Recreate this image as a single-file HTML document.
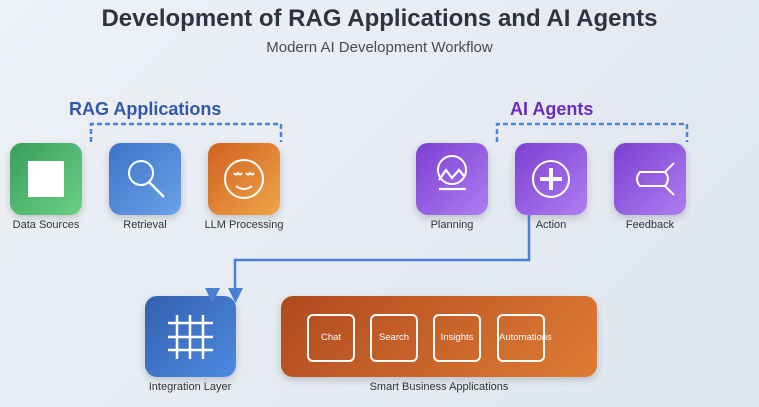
<!DOCTYPE html>
<html><head><style>
body{margin:0;width:759px;height:407px;overflow:hidden;background:linear-gradient(135deg,#eef1f6,#dfe6ef);font-family:"Liberation Sans",sans-serif;position:relative}
.t{position:absolute;left:0;width:759px;text-align:center}
.ic{position:absolute;width:72px;height:72px;border-radius:12px;box-shadow:0 3px 8px rgba(0,0,0,.18)}
.lb{position:absolute;font-size:11px;color:#333;text-align:center;width:120px}
.in{position:absolute;top:314px;width:44px;height:44px;border:2px solid #fff;border-radius:6px;color:#fff;font-size:9.5px;line-height:44px;text-align:center;white-space:nowrap}
</style></head><body>
<div class="t" style="top:5px;font-size:24px;font-weight:bold;color:#2d3343">Development of RAG Applications and AI Agents</div>
<div class="t" style="top:39px;font-size:15px;color:#444b5a">Modern AI Development Workflow</div>
<div style="position:absolute;left:69px;top:99px;font-size:18px;font-weight:bold;color:#3358a8">RAG Applications</div>
<div style="position:absolute;left:510px;top:99px;font-size:18px;font-weight:bold;color:#6b2bbf">AI Agents</div>

<div class="ic" style="left:10px;top:143px;background:linear-gradient(135deg,#3a9e5c,#6bd185)"></div>
<div class="ic" style="left:109px;top:143px;background:linear-gradient(135deg,#3e72c8,#69a3e8)"></div>
<div class="ic" style="left:208px;top:143px;background:linear-gradient(135deg,#d2601f,#eea64a)"></div>
<div class="ic" style="left:416px;top:143px;background:linear-gradient(135deg,#7c3fd2,#ae7ef0)"></div>
<div class="ic" style="left:515px;top:143px;background:linear-gradient(135deg,#7c3fd2,#ae7ef0)"></div>
<div class="ic" style="left:614px;top:143px;background:linear-gradient(135deg,#7c3fd2,#ae7ef0)"></div>
<div class="ic" style="left:145px;top:296px;width:91px;height:81px;background:linear-gradient(135deg,#3560b0,#4c8ae0)"></div>
<div class="ic" style="left:281px;top:296px;width:316px;height:81px;background:linear-gradient(135deg,#b04a1f,#df7c34)"></div>
<div class="in" style="left:307px">Chat</div>
<div class="in" style="left:370px">Search</div>
<div class="in" style="left:433px">Insights</div>
<div class="in" style="left:497px">Automations</div>

<svg width="759" height="407" style="position:absolute;left:0;top:0" fill="none" stroke="#fff" stroke-width="2">
<path d="M91 142V124H281V142" stroke="#4a86dc" stroke-width="2.5" stroke-dasharray="5,3"/>
<path d="M497 142V124H687V142" stroke="#4a86dc" stroke-width="2.5" stroke-dasharray="5,3"/>
<rect x="28" y="161" width="36" height="36" fill="#fff" stroke="none"/>
<circle cx="141" cy="173" r="12"/><path d="M149 182L164 197" stroke-width="2.5"/>
<circle cx="244" cy="179" r="19"/><path d="M234 173q2 3 4 0q2 3 4 0M246 173q2 3 4 0q2 3 4 0M236 186q8 6 16 0"/>
<circle cx="452" cy="170" r="14"/><path d="M439 180l7-10 6 8 7-8 5 6M439 189h27" stroke-width="2.2"/>
<circle cx="551" cy="179" r="18"/><path d="M551 168v22M540 179h22" stroke-width="4"/>
<path d="M640 172h25q6 7 0 14h-25q-6-7 0-14zM665 172l9-9M665 186l9 9"/>
<path d="M177 315v44M190 315v44M203 315v44M168 323h45M168 337h45M168 350h45" stroke-width="2.5"/>
<path d="M529 215V260H235V292" stroke="#4a7fd6" stroke-width="2.5"/>
<path d="M228 288h15l-7.5 15z" fill="#4a7fd6" stroke="none"/>
<path d="M205 288h15l-7.5 15z" fill="#4a7fd6" stroke="none"/>
</svg>

<div class="lb" style="left:-14px;top:219px">Data Sources</div>
<div class="lb" style="left:85px;top:219px">Retrieval</div>
<div class="lb" style="left:184px;top:219px">LLM Processing</div>
<div class="lb" style="left:392px;top:219px">Planning</div>
<div class="lb" style="left:491px;top:219px">Action</div>
<div class="lb" style="left:590px;top:219px">Feedback</div>
<div class="lb" style="left:130px;top:381px">Integration Layer</div>
<div class="lb" style="left:369px;top:381px;width:140px">Smart Business Applications</div>
</body></html>
